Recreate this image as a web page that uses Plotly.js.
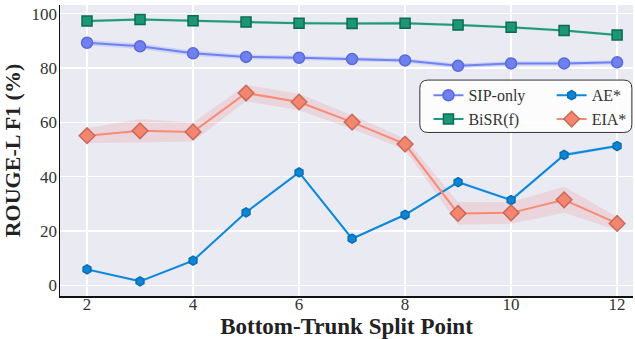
<!DOCTYPE html>
<html>
<head>
<meta charset="utf-8">
<script src="https://cdn.plot.ly/plotly-3.0.1.min.js"></script>
<style>
  html, body { margin: 0; padding: 0; background: #ffffff; }
  #chart { width: 635px; height: 339px; }
</style>
</head>
<body>
<div id="chart"></div>
<script>
// Split points along the x axis
const splitPoints = [2, 3, 4, 5, 6, 7, 8, 9, 10, 11, 12];

// ROUGE-L F1 (%) per method, with the spread used for the shaded bands
const sipOnly    = [89.3, 88.0, 85.4, 84.1, 83.8, 83.3, 82.8, 80.8, 81.7, 81.7, 82.1];
const sipOnlyStd = [1.0, 1.0, 1.0, 0.9, 0.8, 0.8, 0.8, 0.9, 0.8, 0.8, 0.8];

const bisr       = [97.3, 97.9, 97.4, 96.9, 96.5, 96.4, 96.5, 95.8, 95.0, 93.8, 92.2];
const bisrStd    = [0.5, 0.5, 0.5, 0.5, 0.5, 0.5, 0.5, 0.5, 0.5, 0.5, 0.5];

const ae         = [5.9, 1.5, 9.1, 26.9, 41.6, 17.2, 26.0, 38.0, 31.4, 48.0, 51.3];
const aeStd      = [0.4, 0.4, 0.4, 0.4, 0.4, 0.4, 0.4, 0.5, 0.5, 0.6, 0.5];

const eia        = [55.1, 56.9, 56.5, 70.8, 67.5, 60.1, 52.0, 26.5, 26.7, 31.5, 22.8];
const eiaStd     = [2.7, 4.3, 3.5, 3.0, 3.0, 2.5, 2.0, 4.2, 4.0, 4.8, 2.5];

const xTicks = [2, 4, 6, 8, 10, 12];
const yTicks = [0, 20, 40, 60, 80, 100];

const serif = 'Liberation Serif, Times New Roman, serif';

function band(values, spread, fillColor) {
  const upper = values.map((v, i) => v + spread[i]);
  const lower = values.map((v, i) => v - spread[i]);
  return {
    x: splitPoints.concat(splitPoints.slice().reverse()),
    y: upper.concat(lower.slice().reverse()),
    type: 'scatter', mode: 'lines', fill: 'toself',
    fillcolor: fillColor, line: { width: 0, color: 'rgba(0,0,0,0)' },
    hoverinfo: 'skip', showlegend: false
  };
}

function series(name, values, lineColor, markerColor, edgeColor, symbol, size, legendId) {
  return {
    x: splitPoints, y: values, name: name,
    type: 'scatter', mode: 'lines+markers',
    line: { color: lineColor, width: 2 },
    marker: { symbol: symbol, size: size, color: markerColor,
              line: { color: edgeColor, width: 1.5 } },
    legend: legendId
  };
}

const traces = [
  band(sipOnly, sipOnlyStd, 'rgba(110,130,245,0.22)'),
  band(bisr, bisrStd, 'rgba(30,155,125,0.22)'),
  band(ae, aeStd, 'rgba(10,134,216,0.22)'),
  band(eia, eiaStd, 'rgba(235,140,140,0.22)'),
  series('SIP-only', sipOnly, '#6f82f5', '#6f80f0', '#5a68d6', 'circle', 11, 'legend'),
  series('BiSR(f)', bisr, '#1c9a7b', '#1b9677', '#0d6b52', 'square', 10, 'legend'),
  series('AE*', ae, '#0b88dc', '#0b86d8', '#0a6cb0', 'hexagon', 9, 'legend2'),
  series('EIA*', eia, '#f98a74', '#f4866f', '#c66a5a', 'diamond', 12, 'legend2')
];

// Rounded frame drawn behind the two legend columns
const bx0 = 0.628, bx1 = 0.998, by0 = 0.562, by1 = 0.742, rx = 0.014, ry = 0.028;
const framePath =
  `M ${bx0 + rx},${by1} L ${bx1 - rx},${by1} Q ${bx1},${by1} ${bx1},${by1 - ry} ` +
  `L ${bx1},${by0 + ry} Q ${bx1},${by0} ${bx1 - rx},${by0} ` +
  `L ${bx0 + rx},${by0} Q ${bx0},${by0} ${bx0},${by0 + ry} ` +
  `L ${bx0},${by1 - ry} Q ${bx0},${by1} ${bx0 + rx},${by1} Z`;

const legendStyle = (xPos) => ({
  orientation: 'v', x: xPos, y: 0.748, xanchor: 'left', yanchor: 'top',
  bgcolor: 'rgba(0,0,0,0)', borderwidth: 0, tracegroupgap: 0,
  font: { family: serif, size: 16, color: '#333333' }
});

const layout = {
  width: 635, height: 339,
  margin: { l: 60, r: 2, t: 5, b: 43 },
  paper_bgcolor: '#ffffff',
  plot_bgcolor: '#eaeaf2',
  font: { family: serif, size: 17, color: '#333333' },
  showlegend: true,
  legend: legendStyle(0.643),
  legend2: legendStyle(0.858),
  xaxis: {
    range: [1.49, 12.3],
    tickvals: xTicks, ticktext: xTicks.map(String),
    showgrid: true, gridcolor: '#ffffff', gridwidth: 1.5,
    zeroline: false,
    showline: true, linecolor: '#111111', linewidth: 1.5,
    ticks: '', ticklabelstandoff: -8,
    tickfont: { family: serif, size: 17, color: '#333333' },
    title: { text: '<b>Bottom-Trunk Split Point</b>', standoff: 5,
             font: { family: serif, size: 23, color: '#222222' } }
  },
  yaxis: {
    range: [-3.9, 103.2],
    tickvals: yTicks, ticktext: yTicks.map(String),
    showgrid: true, gridcolor: '#ffffff', gridwidth: 1.5,
    zeroline: false,
    showline: true, linecolor: '#111111', linewidth: 1.5,
    ticks: '', ticklabelstandoff: -2,
    tickfont: { family: serif, size: 17, color: '#333333' },
    title: { text: '<b>ROUGE-L F1 (%)</b>', standoff: 8,
             font: { family: serif, size: 22, color: '#222222' } }
  },
  shapes: [{
    type: 'path', xref: 'paper', yref: 'paper', path: framePath,
    fillcolor: 'rgba(255,255,255,0.85)', line: { color: '#333333', width: 1 },
    layer: 'above'
  }]
};

Plotly.newPlot('chart', traces, layout, { displayModeBar: false, staticPlot: true });
</script>
</body>
</html>
